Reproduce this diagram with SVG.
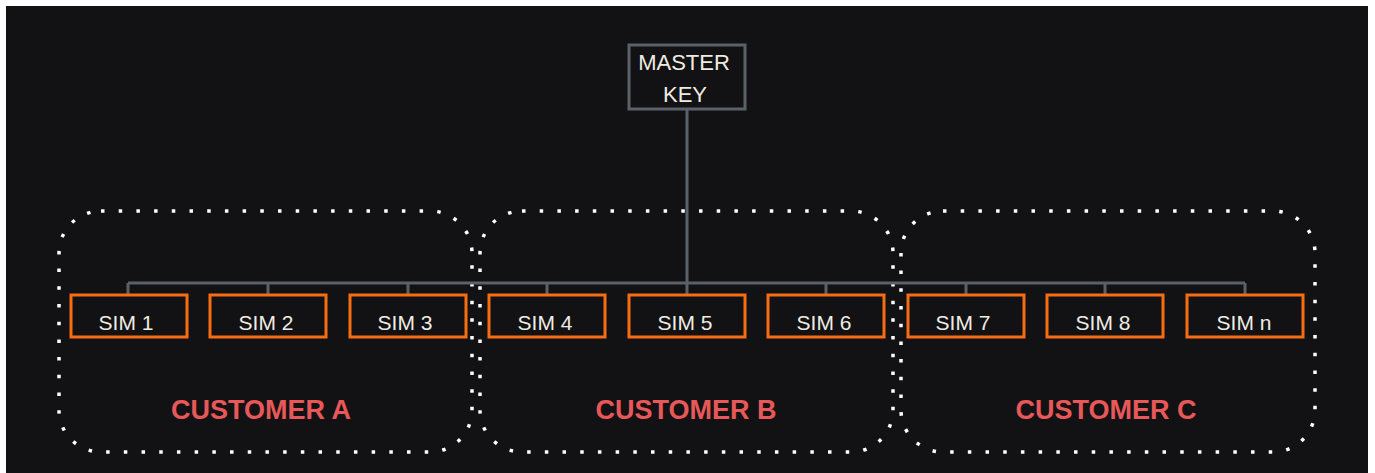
<svg xmlns="http://www.w3.org/2000/svg" width="1375" height="473" viewBox="0 0 1375 473">
<style>
.sim rect{fill:none;stroke:#f76d12;stroke-width:3}
.t{font-family:"Liberation Sans",Arial,sans-serif;font-size:21px;fill:#f0ece2;text-anchor:middle}
.cust rect{fill:none;stroke:#ffffff;stroke-width:3.5;stroke-dasharray:3.5 14.2}
.cl{font-family:"Liberation Sans",Arial,sans-serif;font-size:27px;font-weight:bold;fill:#e85858;text-anchor:middle}
.conn{fill:none;stroke:#5b6169;stroke-width:3}
</style>
<rect x="0" y="0" width="1375" height="473" fill="#ffffff"/>
<rect x="6" y="6" width="1362" height="467" fill="#121214"/>
<g id="customers">
<g id="customer-a" class="cust"><rect x="59" y="211" width="413" height="241" rx="42"/><text class="cl" x="261" y="419">CUSTOMER A</text></g>
<g id="customer-b" class="cust"><rect x="480" y="211" width="413" height="241" rx="42"/><text class="cl" x="686" y="419">CUSTOMER B</text></g>
<g id="customer-c" class="cust"><rect x="901" y="211" width="414" height="241" rx="42"/><text class="cl" x="1106" y="419">CUSTOMER C</text></g>
</g>
<g id="connectors" class="conn">
<path d="M687 110V283M128 283H1245"/>
<path d="M128 283V294M268 283V294M408 283V294M547 283V294M687 283V294M826 283V294M966 283V294M1105 283V294M1245 283V294"/>
</g>
<g id="master-key"><rect x="629" y="45" width="116" height="64" fill="none" stroke="#5b6169" stroke-width="3"/><text class="t" x="684" y="70" style="font-size:22px">MASTER</text><text class="t" x="685" y="102" style="font-size:22px">KEY</text></g>
<g id="sim-1" class="sim"><rect x="71" y="295" width="116" height="42"/><text class="t" x="126" y="330">SIM 1</text></g>
<g id="sim-2" class="sim"><rect x="210" y="295" width="116" height="42"/><text class="t" x="266" y="330">SIM 2</text></g>
<g id="sim-3" class="sim"><rect x="350" y="295" width="116" height="42"/><text class="t" x="405" y="330">SIM 3</text></g>
<g id="sim-4" class="sim"><rect x="489" y="295" width="116" height="42"/><text class="t" x="545" y="330">SIM 4</text></g>
<g id="sim-5" class="sim"><rect x="629" y="295" width="116" height="42"/><text class="t" x="685" y="330">SIM 5</text></g>
<g id="sim-6" class="sim"><rect x="768" y="295" width="116" height="42"/><text class="t" x="824" y="330">SIM 6</text></g>
<g id="sim-7" class="sim"><rect x="908" y="295" width="116" height="42"/><text class="t" x="963" y="330">SIM 7</text></g>
<g id="sim-8" class="sim"><rect x="1047" y="295" width="116" height="42"/><text class="t" x="1103" y="330">SIM 8</text></g>
<g id="sim-n" class="sim"><rect x="1187" y="295" width="116" height="42"/><text class="t" x="1244" y="330">SIM n</text></g>
</svg>
